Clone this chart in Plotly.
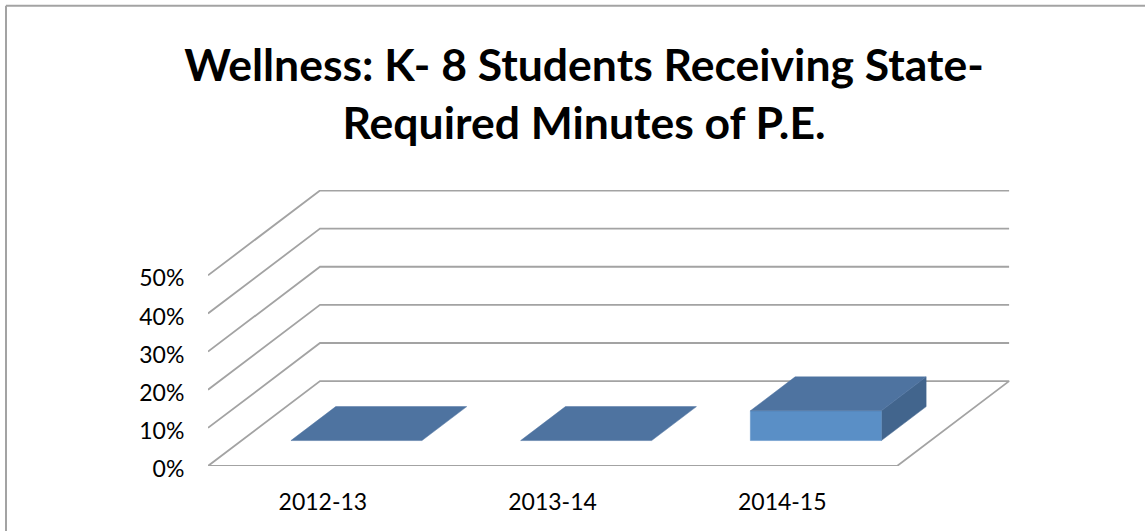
import plotly.graph_objects as go

categories = ["2012-13", "2013-14", "2014-15"]
values = [0, 0, 7.8]
y_ticks = [0, 10, 20, 30, 40, 50]
y_labels = ["0%", "10%", "20%", "30%", "40%", "50%"]
title_text = "Wellness: K- 8 Students Receiving State-<br>Required Minutes of P.E."

W, H = 1145, 531
L, R, T, B = 208, 1010, 189.5, 466
CAT_PX = 229.7
PCT_PX = 3.82
DEPTH_X = 112 / CAT_PX
DEPTH_Y = 85 / PCT_PX
BAR_W = 131 / CAT_PX
BAR_START = 0.30
BAR_DEPTH = 0.40
GRID = "#A3A3A3"
TOP, FRONT, SIDE = "#4E73A0", "#5A8FC6", "#42658D"
FONT = "Lato"


def poly(xs, ys, color):
    return go.Scatter(x=xs, y=ys, mode="lines", fill="toself", fillcolor=color,
                      line=dict(color=color, width=0.5), hoverinfo="skip", showlegend=False)


fig = go.Figure()
n = len(categories)
for t in y_ticks:
    if t == 0:
        xs = [n, 0, DEPTH_X, n + DEPTH_X, n]
        ys = [0, 0, DEPTH_Y, DEPTH_Y, 0]
    else:
        xs = [0, DEPTH_X, n + DEPTH_X]
        ys = [t, t + DEPTH_Y, t + DEPTH_Y]
    fig.add_trace(go.Scatter(x=xs, y=ys, mode="lines", line=dict(color=GRID, width=1.8),
                             cliponaxis=False, hoverinfo="skip", showlegend=False))

for i, v in enumerate(values):
    x0 = i + 0.5 - BAR_W / 2 + BAR_START * DEPTH_X
    x1 = x0 + BAR_W
    y0 = BAR_START * DEPTH_Y
    dx, dy = BAR_DEPTH * DEPTH_X, BAR_DEPTH * DEPTH_Y
    if v > 0:
        fig.add_trace(poly([x1, x1 + dx, x1 + dx, x1, x1],
                           [y0, y0 + dy, y0 + dy + v, y0 + v, y0], SIDE))
        fig.add_trace(poly([x0, x1, x1, x0, x0], [y0, y0, y0 + v, y0 + v, y0], FRONT))
    fig.add_trace(poly([x0, x1, x1 + dx, x0 + dx, x0],
                       [y0 + v, y0 + v, y0 + v + dy, y0 + v + dy, y0 + v], TOP))

px_x = lambda p: (p - L) / (R - L)
px_y = lambda p: (B - p) / (B - T)

fig.update_layout(
    width=W, height=H, autosize=False,
    paper_bgcolor="white", plot_bgcolor="white",
    margin=dict(l=L, r=W - R, t=T, b=H - B, pad=0),
    showlegend=False,
    title=dict(text=title_text, x=584 / W, xanchor="center", y=1 - 81 / H, yanchor="middle",
               font=dict(family=FONT, size=44.5, color="black", weight="bold")),
    xaxis=dict(range=[0, (R - L) / CAT_PX], tickmode="array", automargin=False,
               tickvals=[i + 0.5 for i in range(n)], ticktext=categories,
               showgrid=False, zeroline=False, showline=False,
               ticks="outside", ticklen=15, tickcolor="rgba(0,0,0,0)",
               tickfont=dict(family=FONT, size=23, color="black"), fixedrange=True),
    yaxis=dict(range=[0, (B - T) / PCT_PX], tickmode="array", automargin=False,
               tickvals=y_ticks, ticktext=y_labels,
               showgrid=False, zeroline=False, showline=False,
               ticks="outside", ticklen=18, tickcolor="rgba(0,0,0,0)", ticklabelshift=3,
               tickfont=dict(family=FONT, size=23, color="black"), fixedrange=True),
    shapes=[
        dict(type="line", xref="paper", yref="paper", x0=px_x(6), x1=px_x(1145), y0=px_y(5), y1=px_y(5),
             line=dict(color=GRID, width=2)),
        dict(type="line", xref="paper", yref="paper", x0=px_x(6), x1=px_x(6), y0=px_y(5), y1=px_y(531),
             line=dict(color=GRID, width=2)),
    ],
)
fig.write_html("out.html", config={"displayModeBar": False},
               post_script="document.body.style.margin='0';document.documentElement.style.overflow='hidden';")
